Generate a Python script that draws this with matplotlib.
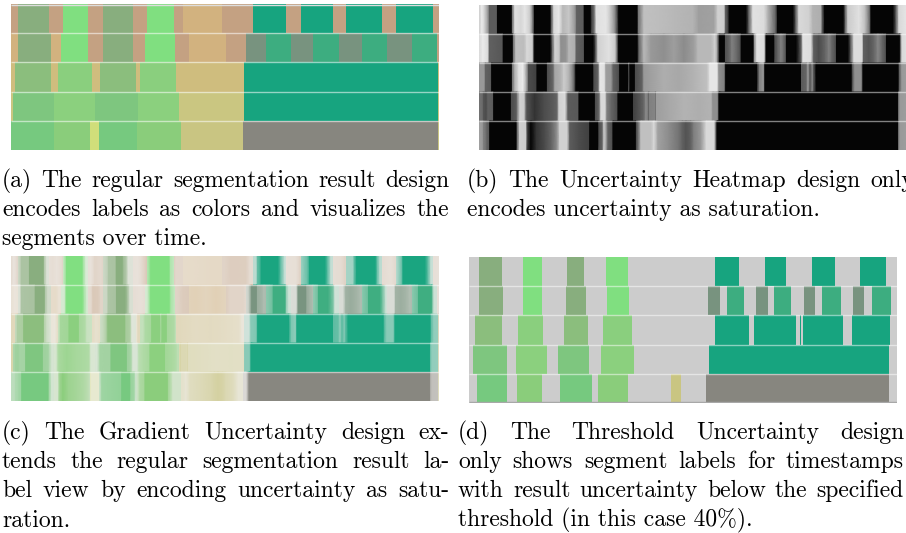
import numpy as np
import matplotlib
matplotlib.use("Agg")
import matplotlib.pyplot as plt
from matplotlib.transforms import IdentityTransform

# ---------------- data ----------------
T_END = 428  # length of the time axis (frames)

PALETTE = {
    'brown': '#C4A182', 'sand': '#D2B27F', 'sage': '#88AE7E', 'lime': '#80DF80',
    'teal': '#17A47F', 'slate': '#78937F', 'jade': '#3DAD80',
    'khaki3': '#CFBD7E', 'sage3': '#8BBE7D', 'lime3': '#8ACF7E',
    'khaki4': '#CAC681', 'green4': '#7EC67F', 'lime4': '#8BD07E',
    'green5': '#76C97F', 'lime5': '#8ACD7B', 'yellow': '#D0DE7A',
    'khaki5': '#C9C582', 'gray': '#87867F',
}

# segment boundaries (frames) and labels, one list per row (top to bottom)
ROW1_EDGES = [0, 6.7, 38.3, 51.7, 77.3, 92.3, 122.3, 135.7, 162.7, 172, 211, 242, 275,
              289.7, 322.3, 334.7, 371, 385.3, 421.7, 428]
ROW1_LABELS = ['brown', 'sage', 'brown', 'lime', 'brown', 'sage', 'brown', 'lime', 'brown',
               'sand', 'brown', 'teal', 'brown', 'teal', 'brown', 'teal', 'brown', 'teal', 'brown']
ROW2_EDGES = [0, 6.7, 39.7, 50.3, 77, 92.3, 122.3, 134.3, 164, 178, 214.7, 234.7, 254.7,
              279.7, 302.3, 328, 350.7, 375.7, 400.7, 426.3, 428]
ROW2_LABELS = ['sand', 'sage', 'sand', 'lime', 'brown', 'sage', 'brown', 'lime', 'brown',
               'sand', 'brown', 'slate', 'jade', 'slate', 'jade', 'slate', 'jade', 'slate',
               'jade', 'brown']
ROW3_EDGES = [0, 4.3, 40, 47.3, 81, 89, 125, 129, 165, 233, 427.3, 428]
ROW3_LABELS = ['khaki3', 'sage3', 'khaki3', 'lime3', 'khaki3', 'sage3', 'khaki3', 'lime3',
               'khaki3', 'teal', 'khaki3']
ROW4_EDGES = [0, 1.7, 43.3, 84.3, 127.3, 167.7, 233, 427, 428]
ROW4_LABELS = ['khaki4', 'green4', 'lime4', 'green4', 'lime4', 'khaki4', 'teal', 'khaki4']
ROW5_EDGES = [0, 43.3, 79, 87.7, 126.3, 169.7, 232.3, 427.3, 428]
ROW5_LABELS = ['green5', 'lime5', 'yellow', 'green5', 'lime5', 'khaki5', 'gray', 'khaki5']

# uncertainty (0..1) read at these frames, one list per row
ROW1_UNC = [(0, .80), (3, .92), (6, .80), (9.5, .55), (10.5, .36), (17.8, .36), (18.5, .02),
            (32.5, .02), (33.5, .45), (36, .88), (42, .84), (46, .90), (51, .80), (54, .45),
            (55.5, .02), (71, .02), (72.7, .40), (75, .85), (80, .90), (84, .72), (90, .78),
            (96, .60), (97.7, .38), (104.5, .36), (105.3, .02), (111.5, .02), (113, .30),
            (115, .40), (117.3, .88), (127, .90), (131, .80), (136, .55), (139.5, .10),
            (140, .02), (158, .02), (159.5, .45), (165, .75), (180, .74), (195, .72),
            (214, .70), (220, .62), (235, .63), (239, .82), (245, .80), (246.5, .38),
            (249.5, .20), (250.3, .02), (267, .02), (270, .40), (274, .88), (285, .86),
            (289, .70), (296.7, .38), (298.5, .02), (314, .02), (317, .40), (320, .85),
            (330, .82), (334, .70), (342, .68), (343.2, .38), (345.7, .02), (364.5, .02),
            (366.3, .40), (369, .80), (380, .88), (386, .75), (391, .40), (392, .02),
            (414, .02), (417.3, .40), (420, .85), (428, .90)]
ROW2_UNC = [(0, .85), (4, .92), (9, .85), (10.3, .38), (23.5, .34), (24.3, .02), (33.5, .02),
            (34.5, .45), (37, .75), (45, .74), (48, .85), (53.5, .8), (54.5, .38), (55.7, .02),
            (71.3, .02), (73.3, .4), (76, .82), (80, .78), (82, .56), (87, .58), (90, .72),
            (96, .68), (97.2, .38), (104.8, .34), (105.5, .02), (114.3, .02), (117, .4),
            (119, .82), (130, .88), (136, .8), (138.3, .38), (139.7, .02), (158.3, .02),
            (160, .4), (165, .72), (172, .6), (185, .56), (195, .62), (205, .55), (215, .62),
            (219, .72), (232, .72), (236, .82), (238.5, .6), (239.2, .38), (240.7, .02),
            (245.8, .02), (246.5, .32), (250.7, .4), (253, .5), (258.3, .4), (261.5, .3),
            (262.3, .02), (274, .02), (275.7, .6), (278, .88), (285, .86), (286.7, .38),
            (287.3, .02), (295, .02), (296, .3), (299, .4), (302, .5), (305, .4), (307, .3),
            (307.5, .02), (317.3, .02), (322.3, .4), (324, .88), (332, .86), (334.5, .4),
            (335.5, .36), (340, .3), (346.3, .4), (350, .5), (353, .4), (357, .3),
            (357.5, .02), (369, .02), (372, .4), (375, .86), (383, .86), (384.5, .38),
            (390, .33), (395, .4), (399, .52), (403.3, .4), (407, .3), (407.5, .02),
            (420.7, .02), (421.7, .4), (423, .85), (428, .88)]
ROW3_UNC = [(0, .6), (5, .6), (6.5, .38), (12, .35), (12.7, .02), (32.7, .02), (33.5, .45),
            (36, .7), (40, .88), (44, .92), (48, .6), (49.5, .3), (57.5, .25), (58, .02),
            (67.7, .02), (68.5, .3), (74, .4), (76, .65), (82, .7), (85, .8), (90, .7),
            (94, .5), (95.2, .38), (97, .02), (114, .02), (115, .3), (119, .38), (121, .9),
            (125.5, .88), (127, .62), (132, .6), (134.3, .38), (140, .3), (140.7, .02),
            (149, .02), (150, .35), (151, .02), (155.7, .02), (156.5, .3), (163, .38),
            (165, .6), (170, .62), (185, .68), (200, .66), (215, .7), (228, .75), (231, .9),
            (238, .9), (240, .56), (245.5, .5), (246.2, .3), (246.7, .02), (278, .02),
            (279, .3), (280.5, .5), (284.5, .6), (285.5, .3), (286, .02), (322, .02),
            (322.5, .35), (327.3, .4), (329, .6), (330.7, .38), (332.3, .38), (333.3, .58),
            (334.3, .38), (337.3, .02), (372.3, .02), (374, .4), (376, .56), (382, .56),
            (383.3, .38), (384, .02), (419, .02), (420.7, .4), (423, .6), (428, .62)]
ROW4_UNC = [(0, .45), (3.5, .42), (4.5, .33), (7.3, .3), (9, .38), (14, .36), (14.7, .02),
            (31.7, .02), (32.5, .3), (37.5, .36), (39, .6), (41, .82), (45, .8), (47, .45),
            (48, .32), (55.7, .2), (65, .3), (75, .36), (78, .4), (80, .82), (86, .85),
            (88.5, .45), (89.5, .36), (99.5, .35), (100, .02), (115.7, .02), (116.5, .3),
            (120, .4), (122, .85), (126, .85), (128, .5), (132.3, .4), (138.5, .3), (139, .02),
            (154, .02), (154.5, .25), (162, .35), (164.7, .4), (167, .55), (169.5, .45),
            (170, .38), (170.5, .5), (176.2, .52), (176.7, .38), (177.3, .62), (190, .66),
            (205, .7), (220, .68), (232, .7), (234, .56), (238, .56), (239.7, .38), (240, .02),
            (419, .02), (419.5, .4), (421, .6), (428, .62)]
ROW5_UNC = [(0, .63), (3.5, .6), (4.5, .5), (7.5, .42), (8.2, .38), (10.5, .34), (10.7, .02),
            (37.3, .02), (38.3, .4), (40.7, .82), (47, .8), (48, .38), (49, .2), (52, .02),
            (57.3, .2), (66, .3), (72.7, .4), (78, .56), (80.7, .82), (88, .82), (90.5, .42),
            (91.2, .36), (100, .3), (110.5, .25), (110.7, .02), (119, .02), (120, .3),
            (123.3, .4), (125, .8), (128, .55), (129, .38), (133.5, .3), (134, .02),
            (156.7, .02), (157.5, .3), (159, .4), (162, .75), (172, .75), (175, .85),
            (179, .63), (190, .55), (200, .45), (203.3, .38), (207, .33), (211.7, .38),
            (215, .5), (222, .6), (227.3, .85), (235, .85), (236.5, .5), (237.5, .38),
            (238, .02), (419, .02), (419.5, .4), (421, .6), (428, .62)]

THRESHOLD = 0.40

CAPTION_A = ["(a) The regular segmentation result design",
             "encodes labels as colors and visualizes the",
             "segments over time."]
CAPTION_B = ["(b) The Uncertainty Heatmap design only",
             "encodes uncertainty as saturation."]
CAPTION_C = ["(c) The Gradient Uncertainty design ex-",
             "tends the regular segmentation result la-",
             "bel view by encoding uncertainty as satu-",
             "ration."]
CAPTION_D = ["(d) The Threshold Uncertainty design",
             "only shows segment labels for timestamps",
             "with result uncertainty below the specified",
             "threshold (in this case 40%)."]

ROWS = [(ROW1_EDGES, ROW1_LABELS), (ROW2_EDGES, ROW2_LABELS), (ROW3_EDGES, ROW3_LABELS),
        (ROW4_EDGES, ROW4_LABELS), (ROW5_EDGES, ROW5_LABELS)]
UNC = [ROW1_UNC, ROW2_UNC, ROW3_UNC, ROW4_UNC, ROW5_UNC]

# ---------------- figure ----------------
W, H = 906, 533
fig = plt.figure(figsize=(W / 100, H / 100), dpi=100)
fig.patch.set_facecolor('white')


def setup(ax):
    ax.set_xlim(0, T_END)
    ax.set_ylim(5, 0)
    ax.axis('off')


def axes_px(x0, y0, x1, y1):
    ax = fig.add_axes([x0 / W, 1 - y1 / H, (x1 - x0) / W, (y1 - y0) / H])
    setup(ax)
    return ax


ax_a = axes_px(11, 4, 439, 150)
ax_b = axes_px(479, 5, 907, 150)
ax_c = axes_px(11, 256, 439, 401)
ax_d = axes_px(469, 257, 897, 403)


def draw_segments(ax):
    for r, (edges, labels) in enumerate(ROWS):
        e = np.asarray(edges, float)
        ax.barh(r + 0.5, np.diff(e), left=e[:-1], height=1.0,
                color=[PALETTE[l] for l in labels], linewidth=0)


def row_grid(r, unc):
    t, u = np.asarray(unc, float).T
    X = np.vstack([t, t])
    Y = np.vstack([np.full_like(t, r), np.full_like(t, r + 1)])
    C = np.vstack([u, u])
    return X, Y, C


def draw_heat(ax):
    for r, unc in enumerate(UNC):
        X, Y, C = row_grid(r, unc)
        ax.pcolormesh(X, Y, C, shading='gouraud', cmap='gray', vmin=0, vmax=1,
                      antialiased=False)


def separators(ax, color='white', alpha=0.55):
    ax.hlines([1, 2, 3, 4], 0, T_END, colors=color, alpha=alpha, lw=1.0, zorder=5)


# (a) regular
draw_segments(ax_a)
separators(ax_a)
ax_a.hlines([0.02], 0, T_END, colors='#DDDDDD', lw=1.0, zorder=5)

# (b) heatmap
draw_heat(ax_b)
separators(ax_b, alpha=0.5)

# (c) gradient: labels washed out by the rendered uncertainty heatmap
draw_segments(ax_c)
wpx, hpx = 428, 145
fig_u = plt.figure(figsize=(wpx / 100, hpx / 100), dpi=100)
ax_u = fig_u.add_axes([0, 0, 1, 1])
setup(ax_u)
draw_heat(ax_u)
fig_u.canvas.draw()
u_img = np.asarray(fig_u.canvas.buffer_rgba())[..., 0].astype(float) / 255.0
plt.close(fig_u)
wash = np.zeros(u_img.shape + (4,))
wash[..., 0], wash[..., 1], wash[..., 2] = 0.94, 0.93, 0.92
wash[..., 3] = np.clip(u_img * 0.95, 0, 1)
ax_c.imshow(wash, extent=[0, T_END, 5, 0], aspect='auto', interpolation='nearest', zorder=3)
setup(ax_c)
separators(ax_c, alpha=0.5)

# (d) threshold
draw_segments(ax_d)
for r, unc in enumerate(UNC):
    X, Y, C = row_grid(r, unc)
    ax_d.contourf(X, Y, C, levels=[THRESHOLD, 2.0], colors=['#CCCCCC'])
separators(ax_d, alpha=0.5)
ax_d.hlines([4.98], 0, T_END, colors='#A8A8A8', lw=1.0, zorder=5)

# ---------------- captions ----------------
FS = 17.0
FAM = ['cmr10', 'DejaVu Serif']
renderer = fig.canvas.get_renderer()


def caption(lines, x0, x1, first_baseline, step=29.2):
    for i, line in enumerate(lines):
        yb = H - (first_baseline + i * step)
        kw = dict(transform=IdentityTransform(), fontsize=FS, family=FAM,
                  va='baseline', ha='left')
        if i == len(lines) - 1:
            fig.text(x0, yb, line, **kw)
            continue
        words = line.split()
        texts = [fig.text(0, yb, w, **kw) for w in words]
        widths = [t.get_window_extent(renderer).width for t in texts]
        gap = (x1 - x0 - sum(widths)) / (len(words) - 1)
        x = x0
        for t, w in zip(texts, widths):
            t.set_x(x)
            x += w + gap


caption(CAPTION_A, 2, 449.5, 187)
caption(CAPTION_B, 467, 914.5, 187)
caption(CAPTION_C, 2, 449.5, 439)
caption(CAPTION_D, 458, 904, 439)

fig.savefig('out.png', dpi=100)
